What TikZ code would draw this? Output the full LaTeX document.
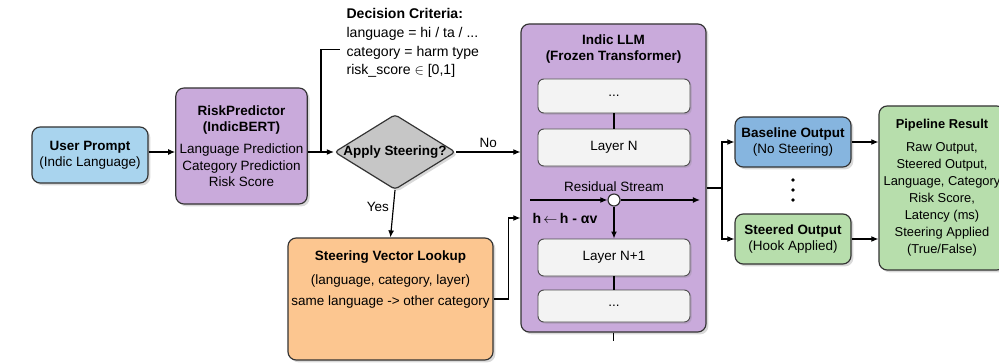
\documentclass[tikz,border=0pt]{standalone}
\usepackage{fontspec}
\setmainfont{Liberation Sans}
\usetikzlibrary{shapes.geometric,arrows.meta,shadows,positioning}
\definecolor{promptblue}{HTML}{A9D4EE}
\definecolor{riskpurple}{HTML}{C9AADB}
\definecolor{decgray}{HTML}{C6C6C6}
\definecolor{lookorange}{HTML}{FCC690}
\definecolor{baseblue}{HTML}{86B5DF}
\definecolor{outgreen}{HTML}{B7DEAC}
\definecolor{layerwhite}{HTML}{F3F3F3}
\tikzset{
  box/.style={draw=black!80, line width=1pt, rounded corners=7pt, align=center,
    font=\fontsize{11.5}{14}\selectfont,
    drop shadow={opacity=0.3, shadow xshift=2pt, shadow yshift=-2pt}},
  layerbox/.style={draw=black!70, line width=0.8pt, rounded corners=5pt, fill=layerwhite,
    minimum width=45.6mm, font=\fontsize{11.5}{14}\selectfont,
    drop shadow={opacity=0.25, shadow xshift=1.5pt, shadow yshift=-1.5pt}},
  conn/.style={line width=1pt, -{Latex[length=6pt,width=5pt]}},
  plain/.style={line width=1pt}
}
\begin{document}
\begin{tikzpicture}[x=0.3mm, y=-0.3mm]
\useasboundingbox (0,0) rectangle (999,363);

% input and predictor
\node[box, fill=promptblue, minimum width=34.8mm, minimum height=16.8mm] (prompt) at (90,155)
  {\textbf{User Prompt}\\(Indic Language)};
\node[box, fill=riskpurple, minimum width=39.3mm, minimum height=34.8mm] (risk) at (241.5,146)
  {\textbf{RiskPredictor}\\\textbf{(IndicBERT)}\\[5pt]Language Prediction\\Category Prediction\\Risk Score};

% decision
\node[diamond, draw=black!80, line width=1pt, fill=decgray, minimum width=36.3mm, minimum height=22.5mm,
  inner sep=0pt, rounded corners=3pt, drop shadow={opacity=0.3, shadow xshift=2pt, shadow yshift=-2pt}] (dec) at (395,152) {};
\node[font=\fontsize{11.5}{14}\selectfont\bfseries] (declbl) at (dec) {Apply Steering?};
\node[anchor=north west, align=left, inner sep=2pt, font=\fontsize{12}{16}\selectfont] (crit) at (344,6)
  {\textbf{Decision Criteria:}\\language = hi / ta / ...\\category = harm type\\risk\_score $\in$ [0,1]};

% steering lookup
\node[box, fill=lookorange, minimum width=61.5mm, minimum height=36.6mm] (svl) at (390.5,299) {};
\node[anchor=north, align=center, font=\fontsize{11.5}{14}\selectfont] (svltxt) at ([yshift=-8pt]svl.north)
  {\textbf{Steering Vector Lookup}\\[6pt](language, category, layer)\\[4pt]same language -> other category};

% LLM
\node[box, fill=riskpurple, minimum width=55.5mm, minimum height=92.4mm] (llm) at (613.5,178) {};
\node[anchor=north, align=center, font=\fontsize{11.5}{14}\selectfont\bfseries] (llmtxt) at ([yshift=-6pt]llm.north)
  {Indic LLM\\(Frozen Transformer)};
\node[layerbox, minimum height=10.2mm] (ltop) at (614,96) {...};
\node[layerbox, minimum height=11.1mm] (ln) at (614,147.5) {Layer N};
\node[layerbox, minimum height=11.1mm] (lnn) at (614,257.5) {Layer N+1};
\node[layerbox, minimum height=9.6mm] (lbot) at (614,306) {...};
\node[circle, draw=black!80, line width=1pt, fill=white, minimum size=3.6mm, inner sep=0pt] (res) at (614,200) {};
\coordinate (resin) at (530,200);
\coordinate (resout) at (700,200);
\node[font=\fontsize{11.5}{14}\selectfont] (reslbl) at (614,187) {Residual Stream};
\node[font=\fontsize{12}{14}\selectfont\bfseries] (hlbl) at (565,218) {h\,$\leftarrow$\,h - αv};

% outputs
\node[box, fill=baseblue, minimum width=34.8mm, minimum height=15mm] (base) at (793,142)
  {\textbf{Baseline Output}\\(No Steering)};
\node[box, fill=outgreen, minimum width=34.8mm, minimum height=15mm] (steer) at (793,239)
  {\textbf{Steered Output}\\(Hook Applied)};
\foreach \y in {180,190,200} \fill (793,\y) circle (1.6pt);
\node[box, fill=outgreen, minimum width=37.8mm, minimum height=49.2mm, font=\fontsize{11}{14.5}\selectfont] (pipe) at (942,188)
  {\textbf{Pipeline Result}\\[5pt]Raw Output,\\Steered Output,\\Language, Category\\Risk Score,\\Latency (ms)\\Steering Applied\\(True/False)};

% connectors
\coordinate (fork) at (321,152);
\draw[conn] (prompt.east |- dec) -- (risk.west |- dec);
\draw[conn] (risk.east |- dec) -- (dec.west);
\draw[plain] (fork) |- ([xshift=-3pt, yshift=-5pt]crit.west);
\draw[conn] (dec.east) -- node[above, pos=0.5, font=\fontsize{11.5}{14}\selectfont] {No} (dec.east -| llm.west);
\draw[conn] (dec.south) -- node[left, pos=0.35, font=\fontsize{11.5}{14}\selectfont] {Yes} (svl.north);
\draw[conn] (svl.east) -- ++(15,0) |- (llm.west |- hlbl);
\draw[plain] (ltop) -- (ln);
\draw[plain] (lnn) -- (lbot);
\draw[plain] (llm.south) -- ++(0,8);
\draw[conn] (resin) -- (res);
\draw[conn] (res) -- (resout);
\draw[conn] (res) -- (lnn);
\coordinate (br) at (722,188);
\draw[plain] (llm.east |- br) -- (br);
\draw[conn] (br) |- (base.west);
\draw[conn] (br) |- (steer.west);
\draw[conn] (base.east) -- (base.east -| pipe.west);
\draw[conn] (steer.east) -- (steer.east -| pipe.west);
\end{tikzpicture}
\end{document}
